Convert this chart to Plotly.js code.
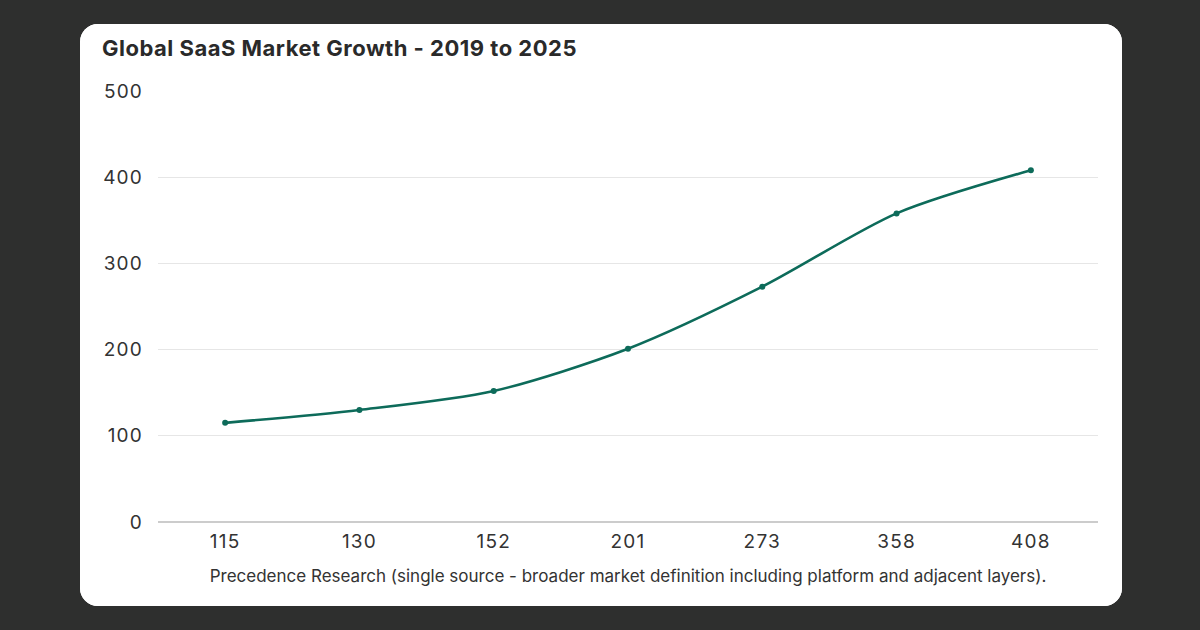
<!DOCTYPE html>
<html>
<head>
<meta charset="utf-8">
<script src="https://cdn.plot.ly/plotly-3.0.1.min.js"></script>
<style>
  html, body { margin: 0; padding: 0; width: 1200px; height: 630px; overflow: hidden; background: #2e2f2e; }
  #card { position: absolute; left: 80px; top: 24px; width: 1042px; height: 582px; background: #ffffff; border-radius: 18px; overflow: hidden; }
  #chart { width: 1042px; height: 582px; }
  #chart .xtick text, #chart .ytick text { letter-spacing: 1.2px; }
  #chart .gtitle { letter-spacing: 0.5px; }
</style>
</head>
<body>
<div id="card"><div id="chart"></div></div>
<script>
const categories = ["115", "130", "152", "201", "273", "358", "408"];
const marketValues = [115, 130, 152, 201, 273, 358, 408];
const yTicks = [0, 100, 200, 300, 400, 500];
const chartTitle = "Global SaaS Market Growth - 2019 to 2025";
const sourceNote = "Precedence Research (single source - broader market definition including platform and adjacent layers).";

const FONT = "Inter, 'DejaVu Sans', sans-serif";

Plotly.newPlot('chart', [{
  type: 'scatter',
  mode: 'lines+markers',
  x: categories,
  y: marketValues,
  line: { color: '#0d6b5a', width: 2.6, shape: 'spline', smoothing: 0.8 },
  marker: { color: '#0d6b5a', size: 6 },
  hoverinfo: 'skip'
}], {
  width: 1042,
  height: 582,
  paper_bgcolor: '#ffffff',
  plot_bgcolor: '#ffffff',
  margin: { l: 78, r: 24, t: 67, b: 84 },
  showlegend: false,
  font: { family: FONT, color: '#333333', size: 16 },
  title: {
    text: '<b>' + chartTitle + '</b>',
    font: { family: FONT, size: 22, color: '#2a2a2a' },
    xref: 'container', yref: 'container',
    x: 22 / 1042, xanchor: 'left',
    y: 1 - 24 / 582, yanchor: 'middle'
  },
  xaxis: {
    type: 'category',
    range: [-0.5, 6.5],
    showgrid: false,
    showline: false,
    zeroline: false,
    ticks: '',
    ticklabelstandoff: 6,
    tickfont: { family: FONT, size: 19, color: '#333333' },
    title: { text: sourceNote, font: { family: FONT, size: 17, color: '#333333' }, standoff: 18 }
  },
  yaxis: {
    range: [0, 500],
    tickvals: yTicks,
    ticktext: yTicks.map(String),
    showgrid: true,
    gridcolor: '#e6e6e6',
    gridwidth: 1,
    zeroline: true,
    zerolinecolor: '#cccccc',
    zerolinewidth: 1.5,
    showline: false,
    ticks: '',
    ticklabelstandoff: 14,
    tickfont: { family: FONT, size: 19, color: '#333333' }
  }
}, { displayModeBar: false, staticPlot: true });
</script>
</body>
</html>
